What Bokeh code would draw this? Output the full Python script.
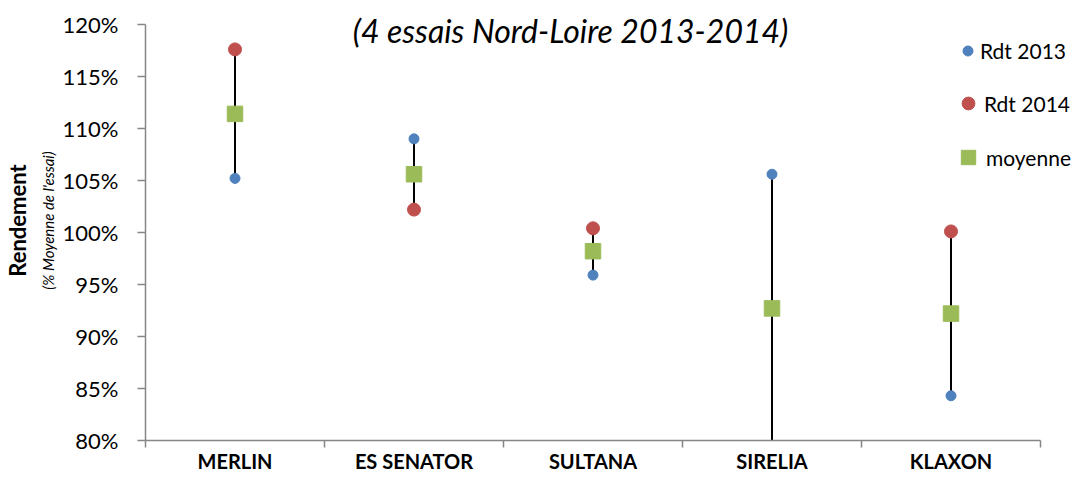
import numpy as np
from bokeh.plotting import figure
from bokeh.models import (ColumnDataSource, Range1d, FixedTicker, PrintfTickFormatter,
                          Legend, LegendItem, Label, CDSView, BooleanFilter, LinearAxis)
from bokeh.embed import file_html
from bokeh.resources import INLINE

# ---- data ----
categories = ["MERLIN", "ES SENATOR", "SULTANA", "SIRELIA", "KLAXON"]
rdt_2013 = [105.2, 109.0, 95.9, 105.6, 84.3]
rdt_2014 = [117.6, 102.2, 100.4, 79.6, 100.1]
moyenne = [111.4, 105.6, 98.2, 92.7, 92.2]
y_ticks = [80, 85, 90, 95, 100, 105, 110, 115, 120]

title_text = "(4 essais Nord-Loire 2013-2014)"
y_title = "Rendement"
y_subtitle = "(% Moyenne de l'essai)"

FONT = "Lato"
GREY = "#868686"
BLUE = "#4F81BD"
RED = "#C0504D"
GREEN = "#9BBB59"

# ---- layout (pixels) ----
W, H = 1074, 475
LEFT, BOTTOM = 145, 34
FRAME_W = W - LEFT
FRAME_H = H - BOTTOM
PX_PER_CAT = 179
TOP_PAD = 24          # pixels above the 120% line inside the frame

n = len(categories)
ylo, yhi = y_ticks[0], y_ticks[-1]
x_end = FRAME_W / PX_PER_CAT
y_end = yhi + TOP_PAD * (yhi - ylo) / (FRAME_H - TOP_PAD)

xpos = np.arange(n) + 0.5
low = np.minimum(rdt_2013, rdt_2014)
high = np.maximum(rdt_2013, rdt_2014)

src = ColumnDataSource(dict(x=xpos, r13=rdt_2013, r14=rdt_2014, moy=moyenne, low=low, high=high))

p = figure(width=W, height=H, output_backend="svg", toolbar_location=None,
           x_range=Range1d(0, x_end), y_range=Range1d(ylo, y_end),
           min_border_left=LEFT, min_border_right=0, min_border_top=0, min_border_bottom=BOTTOM)
p.outline_line_color = None
p.xgrid.visible = False
p.ygrid.visible = False
p.background_fill_color = "white"
p.border_fill_color = "white"

# x axis: ticks at category boundaries (minor), labels at centres (major)
xa = p.xaxis[0]
xa.bounds = (0, n)
xa.ticker = FixedTicker(ticks=list(xpos), minor_ticks=list(range(n + 1)))
xa.major_label_overrides = {float(x): c for x, c in zip(xpos, categories)}
xa.major_tick_out = 0
xa.major_tick_in = 0
xa.major_tick_line_color = None
xa.minor_tick_out = 7
xa.minor_tick_in = 0
xa.minor_tick_line_color = GREY
xa.minor_tick_line_width = 1.5
xa.axis_line_color = GREY
xa.axis_line_width = 1.5
xa.major_label_standoff = 1
xa.major_label_text_font = FONT
xa.major_label_text_font_style = "bold"
xa.major_label_text_font_size = "20px"
xa.major_label_text_color = "black"

ya = p.yaxis[0]
ya.bounds = (ylo, yhi)
ya.ticker = FixedTicker(ticks=y_ticks, minor_ticks=[])
ya.formatter = PrintfTickFormatter(format="%d%%")
ya.major_tick_out = 8
ya.major_tick_in = 0
ya.major_tick_line_color = GREY
ya.major_tick_line_width = 1.5
ya.minor_tick_line_color = None
ya.axis_line_color = GREY
ya.axis_line_width = 1.5
ya.major_label_standoff = 19
ya.major_label_text_font = FONT
ya.major_label_text_font_size = "22px"
ya.major_label_text_color = "black"
ya.axis_label = y_subtitle
ya.axis_label_standoff = 3
ya.axis_label_text_font = FONT
ya.axis_label_text_font_style = "italic"
ya.axis_label_text_font_size = "15px"
ya.axis_label_text_color = "black"

ya2 = LinearAxis(axis_label=y_title, ticker=FixedTicker(ticks=[], minor_ticks=[]),
                 bounds=(ylo, yhi), axis_line_color=None, major_tick_line_color=None,
                 minor_tick_line_color=None, major_tick_out=0, minor_tick_out=0,
                 axis_label_standoff=5, axis_label_text_font=FONT,
                 axis_label_text_font_style="bold", axis_label_text_font_size="22px",
                 axis_label_text_color="black")
p.add_layout(ya2, "left")

# high-low lines
p.segment(x0="x", y0="low", x1="x", y1="high", source=src, line_color="black", line_width=2)

# points (points outside the axis range are not drawn, as in the original)
v13 = CDSView(filter=BooleanFilter([v >= ylo for v in rdt_2013]))
v14 = CDSView(filter=BooleanFilter([v >= ylo for v in rdt_2014]))
r13 = p.scatter("x", "r13", source=src, view=v13, size=10, marker="circle",
                fill_color=BLUE, line_color=BLUE)
r14 = p.scatter("x", "r14", source=src, view=v14, size=13, marker="circle",
                fill_color=RED, line_color=RED)
rmo = p.scatter("x", "moy", source=src, size=15.5, marker="square",
                fill_color=GREEN, line_color=GREEN)

def make_legend(label, rend, box, loc):
    lg = Legend(items=[LegendItem(label=label, renderers=[rend])], location=loc,
                glyph_width=box, glyph_height=box, label_standoff=0,
                padding=0, margin=0, spacing=0, border_line_color=None,
                background_fill_alpha=0, label_text_font=FONT,
                label_text_font_size="21px", label_text_color="black")
    p.add_layout(lg)

make_legend("Rdt 2013", r13, 25, (810, 377))
make_legend("Rdt 2014", r14, 32, (807, 321))
make_legend("moyenne", rmo, 36, (805, 265))

# title
p.add_layout(Label(x=425, y=FRAME_H - 31, x_units="screen", y_units="screen", text=title_text,
                   text_font=FONT, text_font_style="italic", text_font_size="32px",
                   text_align="center", text_baseline="alphabetic", text_color="black"))

open("out.html", "w").write(file_html(p, INLINE))
